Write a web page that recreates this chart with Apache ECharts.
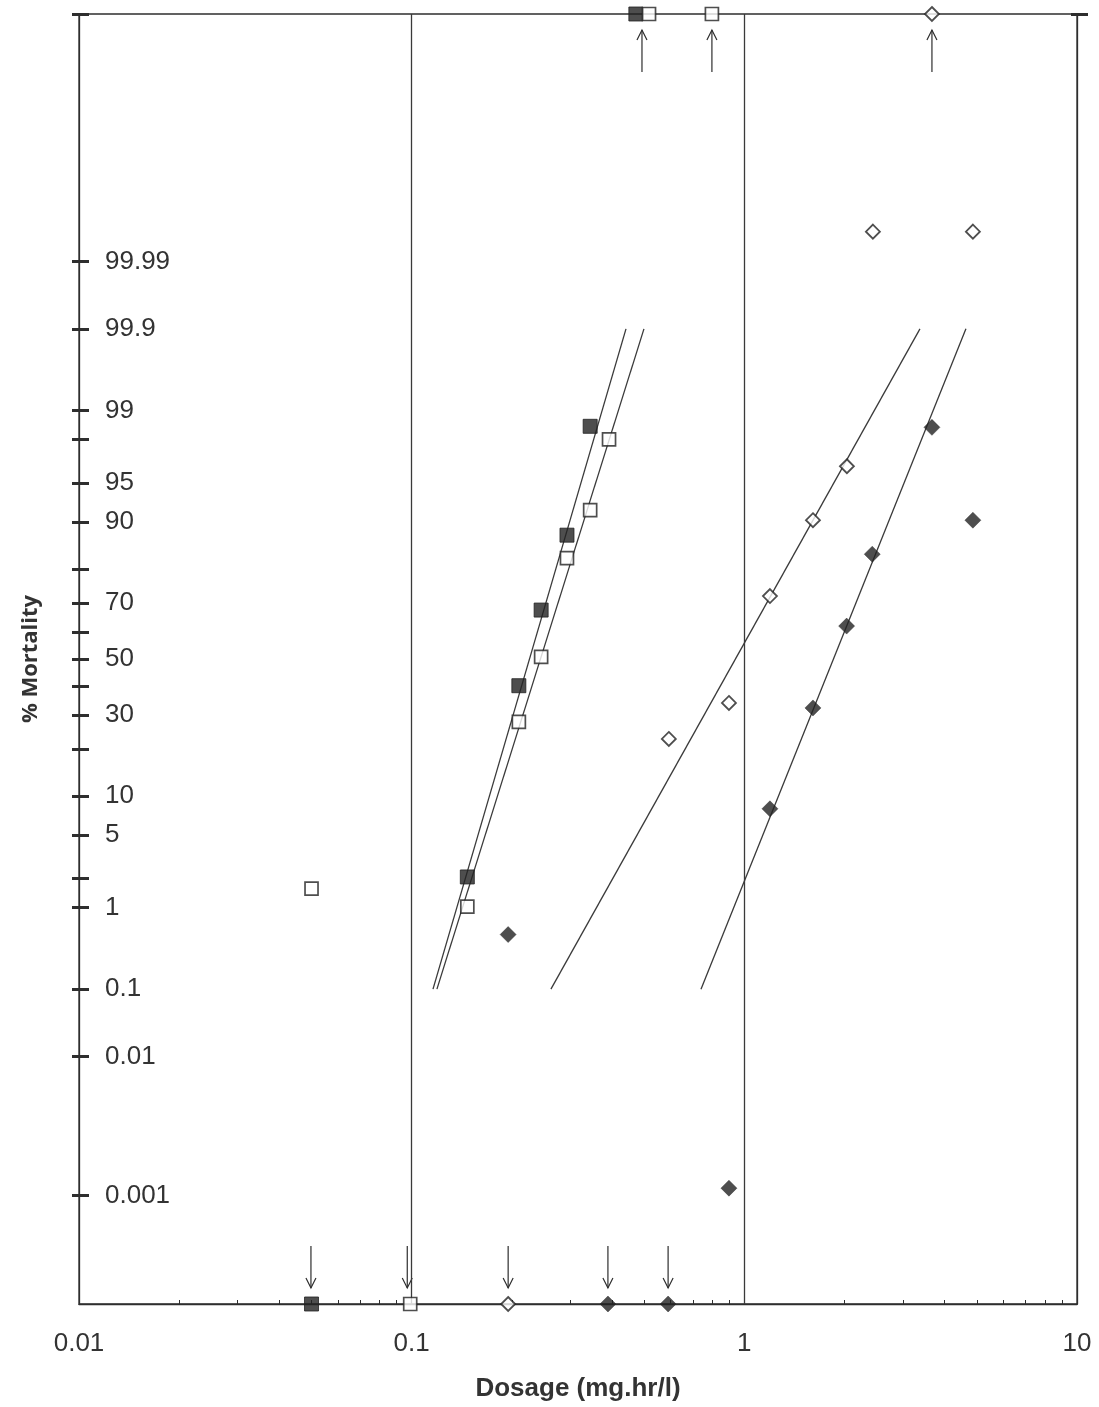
<!DOCTYPE html>
<html>
<head>
<meta charset="utf-8">
<script src="https://cdn.jsdelivr.net/npm/echarts@6/dist/echarts.min.js"></script>
<style>
html,body{margin:0;padding:0;background:#fff;}
#chart{width:1099px;height:1407px;}
</style>
</head>
<body>
<div id="chart"></div>
<script>
// ---- Axis scale (probit units) ----
const YMAX = 6.037;
const YMIN = -6.037;

// Y tick labels (% mortality) and their positions on the probit scale
const yTickLabels = ['99.99','99.9','99','95','90','70','50','30','10','5','1','0.1','0.01','0.001'];
const yTickPos    = [3.719, 3.09, 2.326, 1.645, 1.282, 0.524, 0, -0.524, -1.282, -1.645, -2.326, -3.09, -3.719, -5.02];
const yMinorTickPos = [2.054, 0.842, 0.253, -0.253, -0.842, -2.054];

// X axis (dosage, log) minor ticks and decade grid lines
const xMinorTicks = [0.02,0.03,0.04,0.05,0.06,0.07,0.08,0.09,
                     0.2,0.3,0.4,0.5,0.6,0.7,0.8,0.9,
                     2,3,4,5,6,7,8,9];
const majorGridX = [0.1, 1];

// ---- Data: [dosage, probit] ----
const filledSquares = [[0.147,-2.04],[0.210,-0.25],[0.245,0.458],[0.293,1.159],[0.344,2.178]];
const filledSquaresTop = [0.472];
const filledSquaresBottom = [0.050];

const openSquares = [[0.050,-2.15],[0.147,-2.318],[0.210,-0.589],[0.245,0.019],[0.293,0.944],[0.344,1.393],[0.392,2.056]];
const openSquaresTop = [0.517,0.799];
const openSquaresBottom = [0.099];

const openDiamonds = [[0.593,-0.748],[0.899,-0.411],[1.194,0.589],[1.608,1.299],[2.034,1.804],[2.435,4.0],[4.865,4.0]];
const openDiamondsTop = [3.664];
const openDiamondsBottom = [0.195];

const filledDiamonds = [[0.195,-2.579],[0.899,-4.953],[1.194,-1.402],[1.608,-0.458],[2.030,0.308],[2.424,0.981],[3.664,2.168],[4.865,1.299]];
const filledDiamondsBottom = [0.389,0.590];

// Fitted probit lines (0.1% to 99.9%)
const fitFilledSquares = [[0.1159,-3.09],[0.4408,3.09]];
const fitOpenSquares   = [[0.1191,-3.09],[0.4992,3.09]];
const fitOpenDiamonds  = [[0.2622,-3.09],[3.372,3.09]];
const fitFilledDiamonds= [[0.7407,-3.09],[4.636,3.09]];

// Arrows marking off-scale (0% / 100%) results
const topArrows = [0.4924, 0.799, 3.664];
const bottomArrows = [0.0498, 0.097, 0.195, 0.389, 0.590];

// ---- Styling ----
const INK = '#2e2e2e';
const FONT = 'Liberation Sans';

function withEdge(points, top, bottom){
  const out = points.slice();
  top.forEach(x => out.push([x, YMAX]));
  bottom.forEach(x => out.push([x, YMIN]));
  return out;
}

function arrowSeries(xs, atTop){
  return {
    type:'custom',
    xAxisIndex:0, yAxisIndex:0,
    clip:false, silent:true, z:4,
    data: xs.map(x => [x, atTop ? YMAX : YMIN]),
    renderItem: function(params, api){
      const p = api.coord([api.value(0), api.value(1)]);
      const dir = atTop ? 1 : -1;
      const tipY = p[1] + dir*16;
      const tailY = p[1] + dir*58;
      const headY = tipY + dir*10;
      const st = {stroke:INK, lineWidth:1.2, fill:null};
      return {
        type:'group',
        children:[
          {type:'line', shape:{x1:p[0], y1:tailY, x2:p[0], y2:tipY}, style:st},
          {type:'polyline', shape:{points:[[p[0]-5, headY],[p[0], tipY],[p[0]+5, headY]]}, style:st}
        ]
      };
    }
  };
}

function fitSeries(data){
  return {
    type:'line', data:data, symbol:'none', silent:true, z:2,
    lineStyle:{color:'#3a3a3a', width:1.3}
  };
}

const chart = echarts.init(document.getElementById('chart'), null, {renderer:'canvas'});

const allYTicks = yTickPos.concat(yMinorTickPos).concat([YMAX]);

const option = {
  backgroundColor:'#ffffff',
  animation:false,
  grid:{left:79, right:22, top:14, bottom:101, show:true, borderColor:INK, borderWidth:1.3, backgroundColor:'transparent'},
  xAxis:[{
    type:'log', logBase:10, min:0.01, max:10, position:'bottom',
    axisLine:{show:true, onZero:false, lineStyle:{color:INK, width:1.3}},
    axisTick:{show:true, inside:true, length:4, customValues:xMinorTicks, lineStyle:{color:INK, width:1}},
    axisLabel:{show:true, color:'#333', fontSize:26, fontFamily:FONT, margin:27,
      formatter: v => String(+v.toPrecision(6))},
    splitLine:{show:false},
    minorTick:{show:false},
    name:'Dosage (mg.hr/l)', nameLocation:'middle', nameGap:72,
    nameTextStyle:{color:'#333', fontSize:26, fontWeight:'bold', fontFamily:FONT}
  }],
  yAxis:[
    {
      type:'value', min:YMIN, max:YMAX, position:'left',
      axisLine:{show:true, onZero:false, lineStyle:{color:INK, width:1.3}},
      axisTick:{show:true, inside:false, length:7, customValues:allYTicks, lineStyle:{color:INK, width:3}},
      axisLabel:{show:true, inside:true, margin:26, customValues:yTickPos, color:'#333', fontSize:26, fontFamily:FONT,
        formatter: function(v){
          const i = yTickPos.findIndex(p => Math.abs(p - v) < 1e-6);
          return i >= 0 ? yTickLabels[i] : '';
        }},
      splitLine:{show:false},
      name:'% Mortality', nameLocation:'middle', nameGap:37,
      nameTextStyle:{color:'#333', fontSize:22, fontWeight:'bold', fontFamily:'Open Sans'}
    },
    {
      type:'value', min:YMIN, max:YMAX, position:'left',
      axisLine:{show:false, onZero:false},
      axisTick:{show:true, inside:true, length:10, customValues:allYTicks, lineStyle:{color:INK, width:3}},
      axisLabel:{show:false}, splitLine:{show:false}
    },
    {
      type:'value', min:YMIN, max:YMAX, position:'right',
      axisLine:{show:true, onZero:false, lineStyle:{color:INK, width:1.3}},
      axisTick:{show:true, inside:false, length:11, customValues:[YMAX], lineStyle:{color:INK, width:3}},
      axisLabel:{show:false}, splitLine:{show:false}
    },
    {
      type:'value', min:YMIN, max:YMAX, position:'right',
      axisLine:{show:false, onZero:false},
      axisTick:{show:true, inside:true, length:6, customValues:[YMAX], lineStyle:{color:INK, width:3}},
      axisLabel:{show:false}, splitLine:{show:false}
    }
  ],
  series:[
    {
      type:'line', data:[], silent:true, z:1,
      markLine:{
        silent:true, symbol:['none','none'], label:{show:false},
        lineStyle:{type:'solid', color:'#3a3a3a', width:1.3},
        emphasis:{disabled:true},
        data: majorGridX.map(x => ({xAxis:x}))
      }
    },
    fitSeries(fitFilledSquares),
    fitSeries(fitOpenSquares),
    fitSeries(fitOpenDiamonds),
    fitSeries(fitFilledDiamonds),
    {
      type:'scatter', clip:false, z:5, symbol:'rect', symbolSize:14,
      itemStyle:{color:'#222', borderColor:'#222', borderWidth:1},
      data: withEdge(filledSquares, filledSquaresTop, filledSquaresBottom)
    },
    {
      type:'scatter', clip:false, z:6, symbol:'rect', symbolSize:13,
      itemStyle:{color:'#fff', borderColor:'#222', borderWidth:1.7},
      data: withEdge(openSquares, openSquaresTop, openSquaresBottom)
    },
    {
      type:'scatter', clip:false, z:5, symbol:'diamond', symbolSize:14,
      itemStyle:{color:'#fff', borderColor:'#222', borderWidth:1.8},
      data: withEdge(openDiamonds, openDiamondsTop, openDiamondsBottom)
    },
    {
      type:'scatter', clip:false, z:5, symbol:'diamond', symbolSize:16,
      itemStyle:{color:'#222', borderColor:'#222', borderWidth:0.5},
      data: withEdge(filledDiamonds, [], filledDiamondsBottom)
    },
    arrowSeries(topArrows, true),
    arrowSeries(bottomArrows, false)
  ]
};

chart.setOption(option);
</script>
</body>
</html>
